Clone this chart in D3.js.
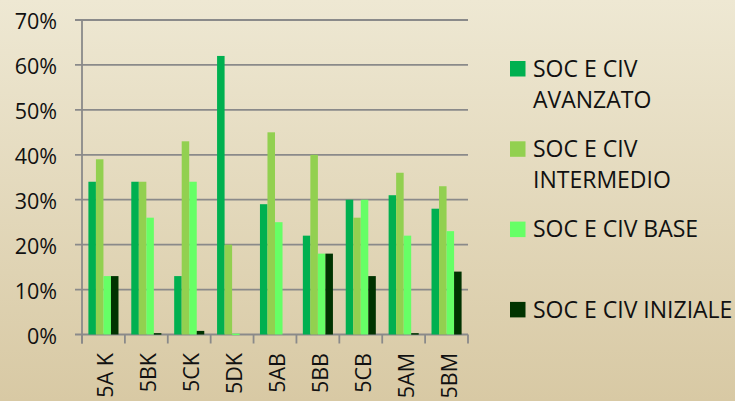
<!DOCTYPE html>
<html>
<head>
<meta charset="utf-8">
<script src="https://cdn.jsdelivr.net/npm/d3@7"></script>
<style>
  html, body { margin: 0; padding: 0; }
  body { width: 735px; height: 401px; overflow: hidden; }
  text { font-family: "Open Sans", sans-serif; fill: #111; }
</style>
</head>
<body>
<div id="mainChart"></div>
<script>
const categories = ['5A K', '5BK', '5CK', '5DK', '5AB', '5BB', '5CB', '5AM', '5BM'];
const seriesNames = ['SOC E CIV AVANZATO', 'SOC E CIV INTERMEDIO', 'SOC E CIV BASE', 'SOC E CIV INIZIALE'];
const legendLines = [['SOC E CIV', 'AVANZATO'], ['SOC E CIV', 'INTERMEDIO'], ['SOC E CIV BASE'], ['SOC E CIV INIZIALE']];
const seriesColors = ['#00b050', '#92d050', '#66ff66', '#003300'];
const avanzato   = [34, 34, 13, 62, 29, 22, 30, 31, 28];
const intermedio = [39, 34, 43, 20, 45, 40, 26, 36, 33];
const base       = [13, 26, 34, 0.2, 25, 18, 30, 22, 23];
const iniziale   = [13, 0.3, 0.8, 0, 0, 18, 13, 0.3, 14];
const yTicks = [0, 10, 20, 30, 40, 50, 60, 70];

const series = [avanzato, intermedio, base, iniziale];

const WIDTH = 735, HEIGHT = 401;
const PLOT = { left: 82, right: 468, top: 20, bottom: 334.5 };

const svg = d3.select('#mainChart')
  .append('svg')
  .attr('width', WIDTH)
  .attr('height', HEIGHT);

// background gradient
const grad = svg.append('defs').append('linearGradient')
  .attr('id', 'bg')
  .attr('x1', 0).attr('y1', 0).attr('x2', 0).attr('y2', 1);
grad.append('stop').attr('offset', '0%').attr('stop-color', '#eee8d3');
grad.append('stop').attr('offset', '100%').attr('stop-color', '#d8c9a4');
svg.append('rect')
  .attr('width', WIDTH).attr('height', HEIGHT)
  .attr('fill', 'url(#bg)');

const x0 = d3.scaleBand()
  .domain(categories)
  .range([PLOT.left, PLOT.right]);

const x1 = d3.scaleBand()
  .domain(d3.range(series.length))
  .range([6.4, x0.bandwidth() - 6.4]);

const y = d3.scaleLinear()
  .domain([0, 70])
  .range([PLOT.bottom, PLOT.top]);

// gridlines
svg.append('g')
  .selectAll('line')
  .data(yTicks)
  .join('line')
  .attr('x1', PLOT.left - 7)
  .attr('x2', PLOT.right)
  .attr('y1', d => y(d))
  .attr('y2', d => y(d))
  .attr('stroke', '#8a8a8a')
  .attr('stroke-width', 1.8);

// y axis
const yAxis = svg.append('g')
  .attr('transform', `translate(${PLOT.left},0)`)
  .call(d3.axisLeft(y).tickValues(yTicks).tickSize(0).tickPadding(25).tickFormat(d => d + '%'));
yAxis.select('.domain').remove();
yAxis.selectAll('text')
  .style('font-size', '21.5px')
  .attr('dy', '0.4em');

// bars
svg.append('g')
  .selectAll('g')
  .data(categories)
  .join('g')
  .attr('transform', d => `translate(${x0(d)},0)`)
  .selectAll('rect')
  .data((d, i) => series.map((s, k) => ({ k, v: s[i] })))
  .join('rect')
  .attr('x', d => x1(d.k))
  .attr('width', x1.bandwidth())
  .attr('y', d => y(d.v))
  .attr('height', d => Math.max(y(0) - y(d.v), d.v > 0 ? 1.5 : 0))
  .attr('fill', d => seriesColors[d.k]);

// x axis
const xAxis = svg.append('g')
  .attr('transform', `translate(0,${PLOT.bottom})`)
  .call(d3.axisBottom(x0).tickSize(0).tickFormat(''));
xAxis.select('.domain').remove();

svg.append('g')
  .selectAll('line')
  .data(categories.concat(['end']))
  .join('line')
  .attr('x1', (d, i) => i < categories.length ? x0(d) : PLOT.right)
  .attr('x2', (d, i) => i < categories.length ? x0(d) : PLOT.right)
  .attr('y1', PLOT.bottom)
  .attr('y2', PLOT.bottom + 9)
  .attr('stroke', '#8a8a8a')
  .attr('stroke-width', 1.8);

svg.append('line')
  .attr('x1', PLOT.left).attr('x2', PLOT.left)
  .attr('y1', PLOT.top).attr('y2', PLOT.bottom + 9)
  .attr('stroke', '#8a8a8a')
  .attr('stroke-width', 1.8);

svg.append('g')
  .selectAll('text')
  .data(categories)
  .join('text')
  .attr('transform', d => `translate(${x0(d) + x0.bandwidth() / 2 + 10},353) rotate(-90)`)
  .attr('text-anchor', 'end')
  .style('font-size', '21.5px')
  .text(d => d);

// legend
const legend = svg.append('g')
  .selectAll('g')
  .data(seriesNames)
  .join('g')
  .attr('transform', (d, i) => `translate(510,${61 + i * 80.3})`);

legend.append('rect')
  .attr('width', 15.5)
  .attr('height', 15.5)
  .attr('fill', (d, i) => seriesColors[i]);

legend.append('text')
  .attr('x', 23)
  .attr('y', 15.6)
  .style('font-size', '23px')
  .selectAll('tspan')
  .data((d, i) => legendLines[i])
  .join('tspan')
  .attr('x', 23)
  .attr('dy', (d, j) => j === 0 ? 0 : 31.6)
  .text(d => d);
</script>
</body>
</html>
